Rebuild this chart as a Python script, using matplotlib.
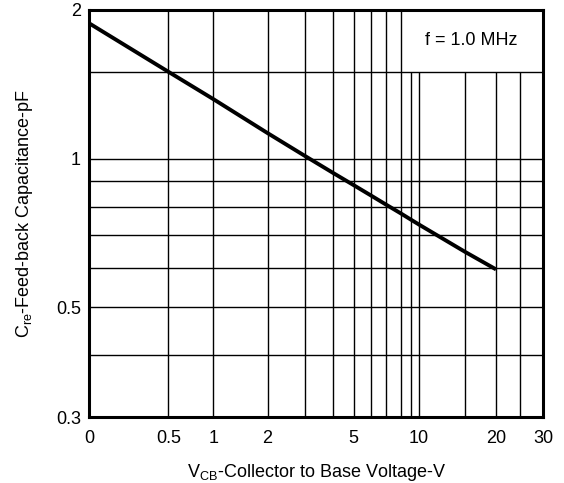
import numpy as np
import matplotlib
matplotlib.use('Agg')
import matplotlib.pyplot as plt

plt.rcParams['font.family'] = ['Liberation Sans', 'DejaVu Sans']

# curve: Cre (pF) vs VCB (V)
vcb = [0, 0.5, 1, 2, 3, 4, 5, 6, 7, 8, 9, 10, 15, 20]
cre = [1.88, 1.50, 1.32, 1.127, 1.014, 0.937, 0.884, 0.843, 0.808, 0.775, 0.753, 0.736, 0.648, 0.597]

# grid and tick layout
x_grid = [0.5, 1, 2, 3, 4, 5, 6, 7, 8, 9, 10, 15, 20, 25]
y_grid = [0.4, 0.5, 0.6, 0.7, 0.8, 0.9, 1.0, 1.5]
x_ticks = [0, 0.5, 1, 2, 5, 10, 20, 30]
x_ticklabels = ['0', '0.5', '1', '2', '5', '10', '20', '30']
y_ticks = [0.3, 0.5, 1, 2]
y_ticklabels = ['0.3', '0.5', '1', '2']

# the printed x axis is not a clean log scale: map knots to paper position
scale_knots = [0, 0.5, 1, 2, 3, 4, 5, 6, 7, 8, 9, 10, 15, 20, 25, 30]
scale_pos = [0, 79, 124, 178, 215, 243, 264, 281, 296, 311, 321, 329, 375, 406, 430, 453]


def fwd(x):
    return np.interp(x, scale_knots, scale_pos)


def inv(p):
    return np.interp(p, scale_pos, scale_knots)


fig = plt.figure(figsize=(5.64, 4.83), dpi=100)
ax = fig.add_axes([0.158, 0.1366, 0.805, 0.8427])
ax.set_xscale('function', functions=(fwd, inv))
ax.set_yscale('log')
ax.set_xlim(0, 30)
ax.set_ylim(0.3, 2)

# grid lines; the ones right of 8 V stop under the frequency note
for xv in x_grid:
    top = 2 if xv <= 8 else 1.5
    ax.vlines(xv, 0.3, top, color='black', lw=1.0, zorder=1)
ax.hlines(y_grid, 0, 30, color='black', lw=1.0, zorder=1)

ax.plot(vcb, cre, color='black', lw=2.8, solid_capstyle='butt', zorder=3)

ax.text(0.841, 0.924, 'f = 1.0 MHz', transform=ax.transAxes,
        ha='center', va='center', fontsize=13)

ax.set_xticks(x_ticks)
ax.set_xticklabels(x_ticklabels)
ax.set_yticks(y_ticks)
ax.set_yticklabels(y_ticklabels)
ax.yaxis.set_minor_locator(matplotlib.ticker.NullLocator())
ax.xaxis.set_minor_locator(matplotlib.ticker.NullLocator())
ax.tick_params(axis='both', length=0, labelsize=13)
ax.tick_params(axis='x', pad=9)
ax.tick_params(axis='y', pad=6)

for s in ax.spines.values():
    s.set_linewidth(2.2)
    s.set_zorder(4)

ax.set_xlabel(r'V$_{\mathregular{CB}}$-Collector to Base Voltage-V', fontsize=13, labelpad=11)
ax.set_ylabel(r'C$_{\mathregular{re}}$-Feed-back Capacitance-pF', fontsize=13, labelpad=15)

fig.savefig('out.png', dpi=100)
